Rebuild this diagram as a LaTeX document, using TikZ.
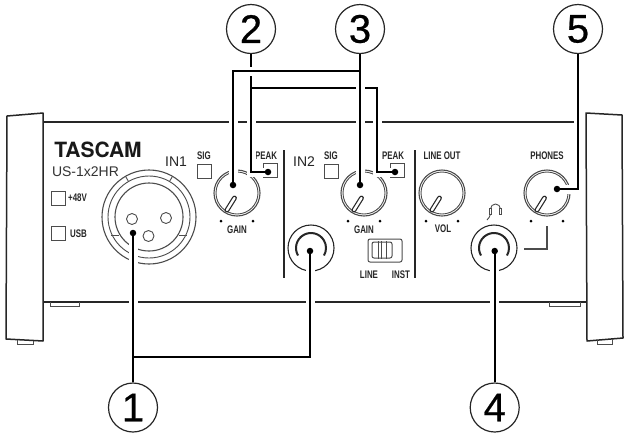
\documentclass[tikz,border=0pt]{standalone}
\usepackage{fontspec}
\setmainfont{Liberation Sans}
\newfontfamily\condfont[FakeStretch=0.72]{Liberation Sans}
\newfontfamily\logofont{TeX Gyre Heros}
\newfontfamily\digitfont[FakeBold=0.6]{Liberation Sans}
\tikzset{
  body/.style={draw=black!85,line width=1.5pt},
  thin part/.style={draw=black!70,line width=.9pt},
  conn/.style={draw=black,line width=2.1pt,preaction={draw=white,line width=9pt}},
  plainconn/.style={draw=black,line width=2.1pt},
  dotnode/.style={circle,fill=black,inner sep=0pt,minimum size=6.5pt},
  callout/.style={circle,draw=black!85,line width=1.2pt,minimum size=49pt,inner sep=0pt,font=\digitfont\fontsize{40}{40}\selectfont},
  lab/.style={font=\condfont\bfseries\fontsize{11}{11}\selectfont,text=black!85,inner sep=0pt},
  big/.style={font=\fontsize{14}{14}\selectfont,text=black!85,inner sep=0pt},
  knob/.pic={
    \draw[thin part,line width=1.1pt] (0,0) circle[radius=23];
    \draw[thin part] (0,0) circle[radius=21];
    \draw[black!85,line width=4.8pt,line cap=round] (-10,17) -- (-2.5,5);
    \draw[white,line width=2.4pt,line cap=round] (-10,17) -- (-2.5,5);
    \fill[black] (-16,28) circle[radius=1.5] (16,28) circle[radius=1.5];
  },
  jack/.pic={
    \draw[body,line width=1.1pt] (0,0) circle[radius=23];
    \draw[body,line width=2pt] (-210:15) arc[start angle=-210,end angle=30,radius=15];
  }
}
\begin{document}
\begin{tikzpicture}[x=1pt,y=-1pt]
\useasboundingbox[fill=white] (0,0) rectangle (632,440);
% chassis
\draw[body] (43,122) -- (575,122);
\draw[body,line width=1.7pt] (43,302) -- (587,302);
\draw[body,line join=round] (43,341) -- (43,113) -- (7,116) -- (6,339) -- cycle;
\draw[body,line join=round] (587,341) -- (586,113) -- (622,115) -- (623,338) -- cycle;
\draw[thin part] (50,302) -- (50,306) -- (79,306) -- (79,302);
\draw[thin part] (549,302) -- (549,306) -- (580,306) -- (580,302);
\draw[thin part] (17,340) -- (17,344) -- (33,344) -- (33,341);
\draw[thin part] (597,340) -- (597,344) -- (612,344) -- (612,339);
% branding
\node[font=\logofont\bfseries\fontsize{21}{21}\selectfont,text=black!90,inner sep=0pt] (brand) at (98,150) {TASCAM};
\node[font=\fontsize{14}{14}\selectfont,text=black!80,inner sep=0pt] (model) at (85.5,171.5) {US-1x2HR};
% left buttons
\node[thin part,minimum size=14pt,inner sep=0pt] (b48) at (58.5,198) {};
\node[lab,anchor=west] (t48) at (68,198) {+48V};
\node[thin part,minimum size=14pt,inner sep=0pt] (busb) at (58.5,233.5) {};
\node[lab,anchor=west] (tusb) at (70,233.5) {USB};
% IN1
\node[big] (in1) at (176,161.5) {IN1};
\node[lab] (sig1) at (204,156) {SIG};
\node[thin part,minimum size=14pt,inner sep=0pt] (sb1) at (204,171) {};
% XLR
\draw[thin part,line width=1.1pt] (149,217) circle[radius=47];
\draw[thin part] (149,217) circle[radius=41];
\draw[thin part,line width=1.1pt] (149,217) circle[radius=34];
\draw[thin part] (149,217) ++(-120:41) -- ++(-120:6);
\draw[thin part] (149,217) ++(-60:41) -- ++(-60:6);
\draw[thin part] (111,235) -- (119,235);
\draw[thin part] (179,235) -- (187,235);
\draw[thin part] (132,219) circle[radius=5.5] (166,218) circle[radius=5.5] (148.5,236) circle[radius=5.5];
% knobs
\pic at (237,193) {knob};
\pic at (364,193) {knob};
\pic at (442,193) {knob};
\pic at (547,193) {knob};
\node[lab] (g1) at (237,230) {GAIN};
\node[lab] (g2) at (364,230) {GAIN};
\node[lab] (vol) at (443,229) {VOL};
\node[lab] (lineout) at (442,156) {LINE OUT};
\node[lab] (phones) at (547,156) {PHONES};
% PEAK
\node[lab] (pk1) at (266,156) {PEAK};
\node[thin part,minimum size=14pt,inner sep=0pt] (pb1) at (270,170) {};
\node[lab] (pk2) at (393,156) {PEAK};
\node[thin part,minimum size=14pt,inner sep=0pt] (pb2) at (397,170) {};
% IN2
\node[big] (in2) at (304,162) {IN2};
\node[lab] (sig2) at (331,156) {SIG};
\node[thin part,minimum size=14pt,inner sep=0pt] (sb2) at (331,171) {};
% dividers
\draw[body] (284,150) -- (284,278);
\draw[body] (415,150) -- (415,278);
% jacks
\pic at (311,248) {jack};
\pic at (494,248) {jack};
% switch
\draw[thin part,rounded corners=2pt,line width=1pt] (368,239) rectangle (402,262);
\draw[thin part,rounded corners=2pt,line width=1pt] (372,242) rectangle (392,258);
\draw[thin part] (378,241) -- (378,259) (386,241) -- (386,259) (381,241) -- (381,259);
\node[lab] (line) at (369,275) {LINE};
\node[lab] (inst) at (401,275) {INST};
% phones bracket and headphones icon
\draw[thin part,line width=1.2pt] (524,249) -- (547,249) -- (547,226);
\draw[thin part] (490.5,209) arc[start angle=180,end angle=360,radius=5] ;
\draw[thin part,fill=white] (489.5,208) rectangle (491.5,214) (499.5,208) rectangle (501.5,214);
\draw[thin part] (490.5,214) .. controls (490.5,217) and (488,218) .. (487,220);
% callouts
\node[callout] (c1) at (133,407.5) {1};
\node[callout] (c2) at (251,29) {2};
\node[callout] (c3) at (360,29) {3};
\node[callout] (c4) at (494.7,407.5) {4};
\node[callout] (c5) at (578,29) {5};
% targets
\node[dotnode] (xlr) at (133,233) {};
\node[dotnode] (j2) at (310,251) {};
\node[dotnode] (j4) at (494.7,251) {};
\node[dotnode] (pk1d) at (268,172) {};
\node[dotnode] (pk2d) at (395,172) {};
\node[dotnode] (k1) at (233,185) {};
\node[dotnode] (k2) at (360,185) {};
\node[dotnode] (k5) at (557,189) {};
\coordinate (a1) at (133,357);
\coordinate (a2) at (251,88);
\coordinate (a2r) at (377,88);
\coordinate (a3) at (360,71);
% connectors: halos cut what they cross; branches are redrawn so they stay joined
\draw[conn] (a1) -| (j2);
\draw[conn] (c1) -- (xlr);
\draw[plainconn] (a1) -| (j2);
\draw[conn] (c4) -- (j4);
\draw[conn] (a2) -- (a2r) |- (pk2d);
\draw[conn] (c2) |- (pk1d);
\draw[plainconn] (a2) -- (a2r) |- (pk2d);
\draw[conn] (a3) -| (k1);
\draw[conn] (c3) -- (k2);
\draw[plainconn] (a3) -| (k1);
\draw[conn] (c5) |- (k5);
\end{tikzpicture}
\end{document}
